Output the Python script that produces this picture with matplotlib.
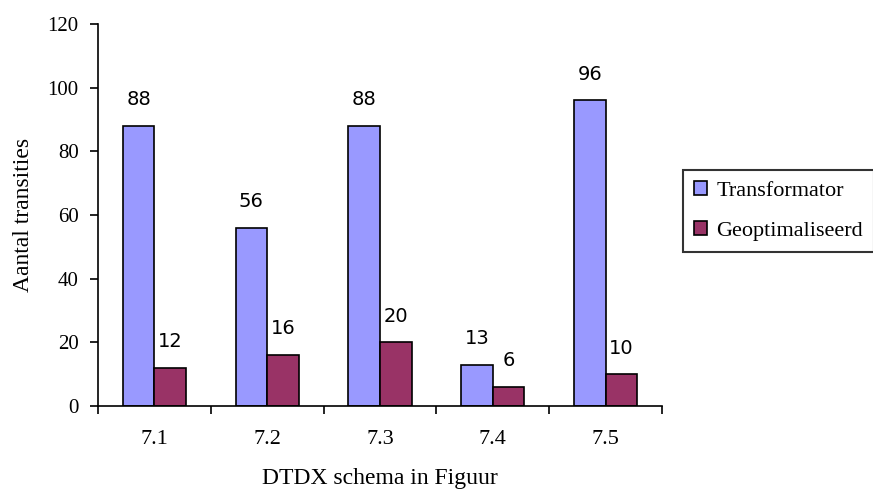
import numpy as np
import matplotlib
matplotlib.use("Agg")
import matplotlib.pyplot as plt

## DATA
categories = ["7.1", "7.2", "7.3", "7.4", "7.5"]
transformator = [88, 56, 88, 13, 96]
geoptimaliseerd = [12, 16, 20, 6, 10]
yticks = [0, 20, 40, 60, 80, 100, 120]

blue = "#9999FF"
maroon = "#993366"
serif = "Liberation Serif"
sans = "DejaVu Sans"

fig = plt.figure(figsize=(8.73, 4.98), dpi=100)
ax = fig.add_axes([98/873, 1-406/498, (662-98)/873, (406-24)/498])

x = np.arange(len(categories))
w = 0.28
b1 = ax.bar(x - w/2, transformator, w, color=blue, edgecolor="black", linewidth=1.2, label="Transformator")
b2 = ax.bar(x + w/2, geoptimaliseerd, w, color=maroon, edgecolor="black", linewidth=1.2, label="Geoptimaliseerd")

# waarden boven de staven
for rects, vals in [(b1, transformator), (b2, geoptimaliseerd)]:
    for r, v in zip(rects, vals):
        ax.annotate(str(v), (r.get_x() + r.get_width()/2, v), xytext=(0, 12),
                    textcoords="offset points", ha="center", va="bottom",
                    fontsize=14, family=sans)

ax.set_xlim(-0.5, len(categories) - 0.5)
ax.set_ylim(0, 120)
ax.set_yticks(yticks)
ax.set_yticklabels([str(t) for t in yticks], family=serif, fontsize=15)
ax.set_xticks(x)
ax.set_xticklabels(categories, family=serif, fontsize=16)
ax.tick_params(axis="x", length=0, pad=17)
ax.set_xticks(np.arange(len(categories) + 1) - 0.5, minor=True)
ax.tick_params(axis="x", which="minor", length=6, width=1.2, direction="out")
ax.tick_params(axis="y", length=6, width=1.2, direction="out", pad=8)

for s in ["top", "right"]:
    ax.spines[s].set_visible(False)
for s in ["left", "bottom"]:
    ax.spines[s].set_linewidth(1.2)

ax.set_xlabel("DTDX schema in Figuur", family=serif, fontsize=17, labelpad=14)
ax.set_ylabel("Aantal transities", family=serif, fontsize=17, labelpad=10)

leg = ax.legend(loc="center left", bbox_to_anchor=(683/873, 1-211/498), bbox_transform=fig.transFigure,
                prop={"family": serif, "size": 16}, frameon=True, fancybox=False,
                handlelength=0.6, handleheight=0.6, handletextpad=0.4, borderpad=0.5,
                labelspacing=0.9, borderaxespad=0)
leg.get_frame().set_edgecolor("black")
leg.get_frame().set_linewidth(1.5)

fig.savefig("out.png", dpi=100)
